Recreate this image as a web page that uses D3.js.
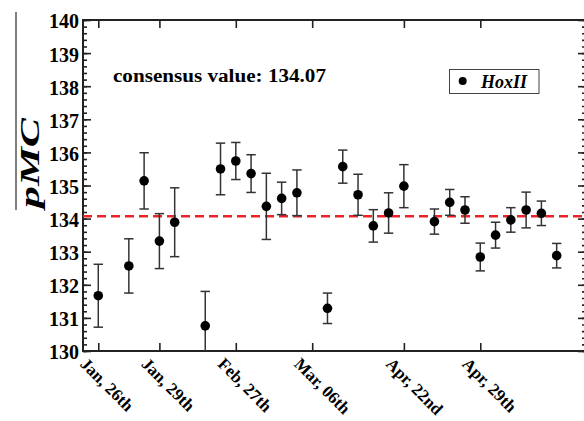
<!DOCTYPE html>
<html>
<head>
<meta charset="utf-8">
<script src="https://cdn.jsdelivr.net/npm/d3@7"></script>
<style>
  body { margin: 0; background: #fff; }
  text { font-family: "Liberation Serif", "Times New Roman", serif; font-weight: bold; }
</style>
</head>
<body>
<script>
// measurement slot (x index) of each sample, value and uncertainty
var slots = [0, 2, 3, 4, 5, 7, 8, 9, 10, 11, 12, 13, 15, 16, 17, 18, 19, 20, 22, 23, 24, 25, 26, 27, 28, 29, 30];
var values = [131.67, 132.57, 135.14, 133.32, 133.89, 130.76, 135.50, 135.74, 135.36, 134.37, 134.61, 134.78,
              131.29, 135.57, 134.72, 133.78, 134.17, 134.98, 133.91, 134.49, 134.26, 132.84, 133.50, 133.96,
              134.26, 134.16, 132.88];
var errors = [0.95, 0.82, 0.85, 0.83, 1.04, 1.04, 0.78, 0.56, 0.57, 1.00, 0.49, 0.69,
              0.46, 0.50, 0.62, 0.49, 0.61, 0.65, 0.38, 0.39, 0.40, 0.42, 0.39, 0.37,
              0.54, 0.37, 0.37];
var tickSlots = [0, 4, 9, 14, 20, 25];
var tickLabels = ["Jan, 26th", "Jan, 29th", "Feb, 27th", "Mar, 06th", "Apr, 22nd", "Apr, 29th"];
var consensus = 134.07;

var w = 584, h = 421;
var pLeft = 83, pRight = 586, pTop = 20, pBottom = 351;

var svg = d3.select("body").append("svg")
    .attr("width", w)
    .attr("height", h);

var x = d3.scaleLinear().domain([-1, 32]).range([pLeft, pLeft + 33 * 15.28]);
var y = d3.scaleLinear().domain([130, 140]).range([pBottom, pTop]);

svg.append("clipPath").attr("id", "plot")
  .append("rect")
    .attr("x", pLeft).attr("y", pTop)
    .attr("width", pRight - pLeft).attr("height", pBottom - pTop);

// axes: left with minor ticks, right mirror, top and bottom
var yMajor = d3.range(130, 141, 1);
var yMinor = d3.range(130, 140.01, 0.2);

function noDomain(g) { g.select(".domain").remove(); }

svg.append("g").attr("transform", "translate(" + pLeft + ",0)")
    .call(d3.axisRight(y).tickValues(yMinor).tickSize(4).tickFormat(""))
    .call(noDomain);
svg.append("g").attr("transform", "translate(" + pLeft + ",0)")
    .call(d3.axisRight(y).tickValues(yMajor).tickSize(8).tickFormat(""))
    .call(noDomain);

svg.append("g").attr("transform", "translate(" + pRight + ",0)")
    .call(d3.axisLeft(y).tickValues(yMinor).tickSize(4).tickFormat(""))
    .call(noDomain);
svg.append("g").attr("transform", "translate(" + pRight + ",0)")
    .call(d3.axisLeft(y).tickValues(yMajor).tickSize(8).tickFormat(""))
    .call(noDomain);

svg.append("g").attr("transform", "translate(0," + pTop + ")")
    .call(d3.axisBottom(x).tickValues(tickSlots).tickSize(8).tickFormat(""))
    .call(noDomain);
svg.append("g").attr("transform", "translate(0," + pBottom + ")")
    .call(d3.axisTop(x).tickValues(tickSlots).tickSize(8).tickFormat(""))
    .call(noDomain);

svg.selectAll(".tick line").attr("stroke", "#222").attr("stroke-width", 1.6);

svg.append("rect")
    .attr("x", pLeft).attr("y", pTop)
    .attr("width", pRight - pLeft).attr("height", pBottom - pTop)
    .attr("fill", "none").attr("stroke", "#222").attr("stroke-width", 2);

// y tick labels
svg.selectAll(".ylab")
    .data(yMajor)
    .enter()
    .append("text")
    .attr("x", pLeft - 4)
    .attr("y", function(d) { return y(d); })
    .attr("dy", "0.42em")
    .attr("text-anchor", "end")
    .attr("font-size", 20)
    .text(function(d) { return d; });

// x tick labels, rotated
svg.selectAll(".xlab")
    .data(tickSlots)
    .enter()
    .append("text")
    .attr("transform", function(d) { return "translate(" + (x(d) - 19) + "," + 365 + ") rotate(45)"; })
    .attr("font-size", 17)
    .text(function(d, i) { return tickLabels[i]; });

// y axis title
svg.append("line")
    .attr("x1", 16).attr("x2", 16).attr("y1", 12).attr("y2", 210)
    .attr("stroke", "#555").attr("stroke-width", 1.5);
svg.append("text")
    .attr("transform", "translate(39,163) rotate(-90)")
    .attr("text-anchor", "middle")
    .attr("font-size", 27)
    .attr("font-style", "italic")
    .attr("textLength", 90)
    .attr("lengthAdjust", "spacingAndGlyphs")
    .text("pMC");

// consensus line
svg.append("line")
    .attr("x1", pLeft).attr("x2", pRight)
    .attr("y1", y(consensus)).attr("y2", y(consensus))
    .attr("stroke", "#e8262a").attr("stroke-width", 2.5)
    .attr("stroke-dasharray", "9,5");

var plot = svg.append("g").attr("clip-path", "url(#plot)");

// error bars
var bars = plot.selectAll(".err")
    .data(values)
    .enter()
    .append("g")
    .attr("stroke", "#333")
    .attr("stroke-width", 1.5);
bars.append("line")
    .attr("x1", function(d, i) { return x(slots[i]); })
    .attr("x2", function(d, i) { return x(slots[i]); })
    .attr("y1", function(d, i) { return y(d - errors[i]); })
    .attr("y2", function(d, i) { return y(d + errors[i]); });
bars.append("line")
    .attr("x1", function(d, i) { return x(slots[i]) - 4.7; })
    .attr("x2", function(d, i) { return x(slots[i]) + 4.7; })
    .attr("y1", function(d, i) { return y(d + errors[i]); })
    .attr("y2", function(d, i) { return y(d + errors[i]); });
bars.append("line")
    .attr("x1", function(d, i) { return x(slots[i]) - 4.7; })
    .attr("x2", function(d, i) { return x(slots[i]) + 4.7; })
    .attr("y1", function(d, i) { return y(d - errors[i]); })
    .attr("y2", function(d, i) { return y(d - errors[i]); });

plot.selectAll("circle")
    .data(values)
    .enter()
    .append("circle")
    .attr("cx", function(d, i) { return x(slots[i]); })
    .attr("cy", function(d) { return y(d); })
    .attr("r", 4.8)
    .attr("fill", "#000");

// annotation
svg.append("text")
    .attr("x", 113).attr("y", 82)
    .attr("font-size", 18)
    .attr("textLength", 213)
    .attr("lengthAdjust", "spacingAndGlyphs")
    .text("consensus value: " + consensus.toFixed(2));

// legend
svg.append("rect")
    .attr("x", 449.5).attr("y", 69.5)
    .attr("width", 89.5).attr("height", 24)
    .attr("fill", "#fff").attr("stroke", "#444").attr("stroke-width", 1);
svg.append("circle")
    .attr("cx", 462.7).attr("cy", 81)
    .attr("r", 4).attr("fill", "#000");
svg.append("text")
    .attr("x", 481).attr("y", 88)
    .attr("font-size", 18)
    .attr("font-style", "italic")
    .text("HoxII");
</script>
</body>
</html>
